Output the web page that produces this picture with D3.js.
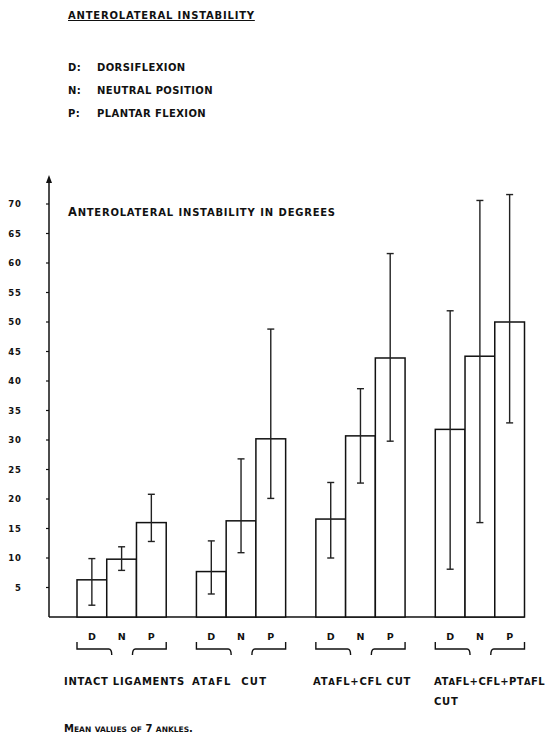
<!DOCTYPE html>
<html>
<head>
<meta charset="utf-8">
<script src="https://cdn.jsdelivr.net/npm/d3@7"></script>
<style>
  body { margin: 0; background: #fff; }
  text { font-family: "DejaVu Sans", sans-serif; font-weight: bold; fill: #111; }
</style>
</head>
<body>
<div id="chart"></div>
<script>
// groups of ligament state, positions within each group
// (lowercase letters are drawn as smaller capitals, like the typed original)
const groups = ["INTACT LIGAMENTS", "ATaFL CUT", "ATaFL+CFL CUT", "ATaFL+CFL+PTaFL"];
const positions = ["D", "N", "P"];
const legendKeys = ["D:", "N:", "P:"];
const legendNames = ["DORSIFLEXION", "NEUTRAL POSITION", "PLANTAR FLEXION"];
const yTicks = [5, 10, 15, 20, 25, 30, 35, 40, 45, 50, 55, 60, 65, 70];

// mean instability in degrees, one array per position (D, N, P)
const meanD = [6.3, 7.7, 16.6, 31.8];
const meanN = [9.8, 16.3, 30.7, 44.2];
const meanP = [16.0, 30.2, 43.9, 50.0];
// error bar upper / lower ends
const hiD = [9.9, 12.9, 22.8, 51.9];
const loD = [2.0, 3.9, 10.0, 8.1];
const hiN = [11.9, 26.8, 38.7, 70.6];
const loN = [7.9, 10.9, 22.7, 16.0];
const hiP = [20.8, 48.8, 61.6, 71.6];
const loP = [12.8, 20.1, 29.8, 32.9];

const W = 549, H = 738;
const svg = d3.select("#chart").append("svg")
    .attr("width", W)
    .attr("height", H);

// text where lowercase letters become smaller capitals
function capsText(sel, str, big, small) {
    const t = sel.append("text");
    str.split("").forEach(ch => {
        const low = ch !== ch.toUpperCase();
        t.append("tspan")
            .attr("font-size", (low ? small : big) + "px")
            .text(ch.toUpperCase());
    });
    return t;
}

// header: title + legend
svg.append("text")
    .attr("x", 68).attr("y", 19)
    .attr("font-size", "10px")
    .attr("letter-spacing", "0.8px")
    .attr("text-decoration", "underline")
    .text("ANTEROLATERAL INSTABILITY");

legendKeys.forEach((k, i) => {
    svg.append("text")
        .attr("x", 68).attr("y", 71 + i * 23)
        .attr("font-size", "10px")
        .attr("letter-spacing", "0.4px")
        .text(k);
    svg.append("text")
        .attr("x", 97).attr("y", 71 + i * 23)
        .attr("font-size", "10px")
        .attr("letter-spacing", "0.4px")
        .text(legendNames[i]);
});

// scales
const y = d3.scaleLinear().domain([0, 70]).range([617, 204]);
const x0 = d3.scaleBand().domain(groups).range([77, 524.5]).paddingInner(0.253);
const x1 = d3.scaleBand().domain(positions).range([0, x0.bandwidth()]);

const rows = [];
groups.forEach((g, i) => {
    rows.push({ g, p: "D", v: meanD[i], hi: hiD[i], lo: loD[i] });
    rows.push({ g, p: "N", v: meanN[i], hi: hiN[i], lo: loN[i] });
    rows.push({ g, p: "P", v: meanP[i], hi: hiP[i], lo: loP[i] });
});

// y axis with arrow
const axisX = 49;
svg.append("line")
    .attr("x1", axisX).attr("x2", axisX)
    .attr("y1", y(0)).attr("y2", 181)
    .attr("stroke", "#111").attr("stroke-width", 1.5);
svg.append("path")
    .attr("d", `M${axisX - 3},${183} L${axisX},${175} L${axisX + 3},${183} Z`)
    .attr("fill", "#111");

const tickG = svg.append("g");
tickG.selectAll("line")
    .data(yTicks)
    .enter().append("line")
    .attr("x1", axisX - 3).attr("x2", axisX)
    .attr("y1", d => y(d)).attr("y2", d => y(d))
    .attr("stroke", "#111").attr("stroke-width", 1.2);
tickG.selectAll("text")
    .data(yTicks)
    .enter().append("text")
    .attr("x", 22).attr("y", d => y(d) + 3)
    .attr("text-anchor", "end")
    .attr("font-size", "8.5px")
    .attr("letter-spacing", "1px")
    .text(d => d);

// baseline
svg.append("line")
    .attr("x1", axisX).attr("x2", x0(groups[3]) + x0.bandwidth())
    .attr("y1", y(0)).attr("y2", y(0))
    .attr("stroke", "#111").attr("stroke-width", 1.5);

// inner title
capsText(svg, "Anterolateral instability in degrees", 11.5, 10)
    .attr("x", 68).attr("y", 216)
    .attr("letter-spacing", "0.75px");

// bars
const bx = d => x0(d.g) + x1(d.p);
svg.append("g").selectAll("rect")
    .data(rows)
    .enter().append("rect")
    .attr("x", bx)
    .attr("y", d => y(d.v))
    .attr("width", x1.bandwidth())
    .attr("height", d => y(0) - y(d.v))
    .attr("fill", "#fff")
    .attr("stroke", "#111")
    .attr("stroke-width", 1.5);

// error bars
const eg = svg.append("g").attr("stroke", "#222").attr("stroke-width", 1.4);
const cx = d => bx(d) + x1.bandwidth() / 2;
rows.forEach(d => {
    eg.append("line").attr("x1", cx(d)).attr("x2", cx(d))
        .attr("y1", y(d.hi)).attr("y2", y(d.lo));
    eg.append("line").attr("x1", cx(d) - 3.5).attr("x2", cx(d) + 3.5)
        .attr("y1", y(d.hi)).attr("y2", y(d.hi));
    eg.append("line").attr("x1", cx(d) - 3.5).attr("x2", cx(d) + 3.5)
        .attr("y1", y(d.lo)).attr("y2", y(d.lo));
});

// D N P labels under bars
svg.append("g").selectAll("text")
    .data(rows)
    .enter().append("text")
    .attr("x", cx)
    .attr("y", 640)
    .attr("text-anchor", "middle")
    .attr("font-size", "9.5px")
    .text(d => d.p);

// split braces under each group
const bg = svg.append("g").attr("fill", "none").attr("stroke", "#111").attr("stroke-width", 1.4);
groups.forEach(g => {
    const l = x0(g), r = x0(g) + x0.bandwidth();
    const m1 = x0(g) + x1("N") + 2, m2 = x0(g) + x1("P") - 4;
    bg.append("path")
        .attr("d", `M${l},642 L${l},649 L${m1},649 Q${m1 + 3},649 ${m1 + 3},655`);
    bg.append("path")
        .attr("d", `M${m2},655 Q${m2},649 ${m2 + 3},649 L${r},649 L${r},642`);
});

// group labels
const labelX = [64, 192, 313, 434];
const labelSpacing = [0.75, 1.2, 0.75, 0.4];
groups.forEach((g, i) => {
    capsText(svg, g, 10, 8.5)
        .attr("x", labelX[i]).attr("y", 685)
        .attr("letter-spacing", labelSpacing[i] + "px")
        .attr("word-spacing", i === 1 ? "5px" : "0px");
});
svg.append("text")
    .attr("x", 434).attr("y", 705)
    .attr("font-size", "10px")
    .attr("letter-spacing", "0.75px")
    .text("CUT");

capsText(svg, "Mean values of 7 ankles.", 10, 7.5)
    .attr("x", 64).attr("y", 732);
</script>
</body>
</html>
